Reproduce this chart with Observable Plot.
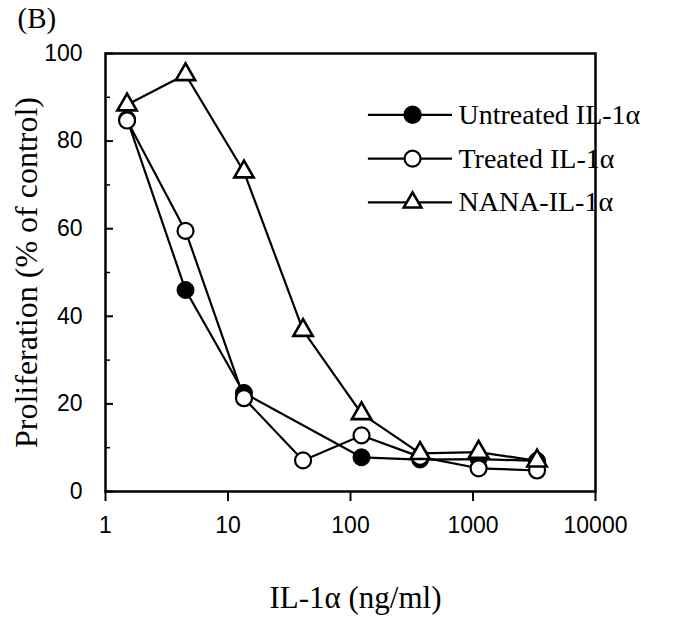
<!DOCTYPE html>
<html>
<head>
<meta charset="utf-8">
<script src="https://cdn.jsdelivr.net/npm/d3@7"></script>
<script src="https://cdn.jsdelivr.net/npm/@observablehq/plot@0.6"></script>
<style>
  html, body { margin: 0; padding: 0; background: #fff; }
</style>
</head>
<body>
<div id="chart"></div>
<script>
// ---- data ----
const untreatedX = [1.5, 4.5, 13.5, 123, 370, 1111, 3333];
const untreatedY = [85, 46, 22.5, 7.8, 7.3, 7.4, 7.0];
const treatedX = [1.5, 4.5, 13.5, 41, 123, 370, 1111, 3333];
const treatedY = [84.7, 59.5, 21.3, 7.1, 12.8, 7.9, 5.3, 4.8];
const nanaX = [1.5, 4.5, 13.5, 41, 123, 370, 1111, 3333];
const nanaY = [88.3, 95.2, 73, 36.8, 17.8, 8.7, 9.0, 7.0];

const xTicks = [1, 10, 100, 1000, 10000];
const yTicks = [0, 20, 40, 60, 80, 100];
const yMinorTicks = [10, 30, 50, 70, 90];

const legendLabels = ["Untreated IL-1\u03b1", "Treated IL-1\u03b1", "NANA-IL-1\u03b1"];
const legendY = [86, 76, 66];
const legendLineX = [140, 680];
const legendMarkX = 321;

const panelLabel = "(B)";
const xLabel = "IL-1\u03b1 (ng/ml)";
const yLabel = "Proliferation (% of control)";

const pts = (xs, ys) => xs.map((x, i) => ({x, y: ys[i]}));
const untreated = pts(untreatedX, untreatedY);
const treated = pts(treatedX, treatedY);
const nana = pts(nanaX, nanaY);
const legend = legendLabels.map((label, i) => ({label, y: legendY[i], i}));

const serif = "'Liberation Serif', 'Times New Roman', serif";

const chart = Plot.plot({
  width: 685,
  height: 619,
  marginLeft: 105,
  marginRight: 90,
  marginTop: 53,
  marginBottom: 128,
  style: {fontFamily: "'Liberation Sans', Arial, sans-serif", fontSize: "23px", color: "#000", background: "#fff"},
  x: {type: "log", domain: [1, 10000]},
  y: {domain: [0, 100]},
  marks: [
    Plot.frame({stroke: "#000", strokeWidth: 2.5}),
    // y ticks (inward), minor ticks, labels
    Plot.axisY({ticks: yTicks, tickSize: -8, strokeWidth: 2, tickFormat: () => "", label: null}),
    Plot.axisY({ticks: yMinorTicks, tickSize: -5, strokeWidth: 1.5, tickFormat: () => "", label: null}),
    Plot.axisY({ticks: yTicks, tickSize: 0, tickPadding: 23, fontSize: 23, label: null}),
    // x ticks (outward) and labels
    Plot.axisX({ticks: xTicks, tickSize: 10, strokeWidth: 2, tickPadding: 15, fontSize: 23, tickFormat: d => String(d), label: null}),
    // titles
    Plot.text([xLabel], {frameAnchor: "bottom", dx: 5, dy: 116, fontFamily: serif, fontSize: 31, fill: "#000"}),
    Plot.text([yLabel], {frameAnchor: "left", textAnchor: "middle", lineAnchor: "middle", dx: -79, rotate: -90, fontFamily: serif, fontSize: 32, fill: "#000"}),
    Plot.text([panelLabel], {frameAnchor: "top-left", dx: -88, dy: -46, fontFamily: serif, fontSize: 29, fill: "#000"}),
    // series lines
    Plot.line(untreated, {x: "x", y: "y", stroke: "#000", strokeWidth: 2.2}),
    Plot.line(treated, {x: "x", y: "y", stroke: "#000", strokeWidth: 2.2}),
    Plot.line(nana, {x: "x", y: "y", stroke: "#000", strokeWidth: 2.2}),
    // markers
    Plot.dot(untreated, {x: "x", y: "y", r: 8.5, fill: "#000", stroke: "#000", strokeWidth: 1}),
    Plot.dot(treated, {x: "x", y: "y", r: 8, fill: "#fff", stroke: "#000", strokeWidth: 2.2}),
    Plot.dot(nana, {x: "x", y: "y", r: 7.2, symbol: "triangle", fill: "#fff", stroke: "#000", strokeWidth: 2.6}),
    // legend
    Plot.ruleY(legend, {y: "y", x1: legendLineX[0], x2: legendLineX[1], stroke: "#000", strokeWidth: 2.2}),
    Plot.dot(legend.filter(d => d.i === 0), {x: legendMarkX, y: "y", r: 8.5, fill: "#000", stroke: "#000"}),
    Plot.dot(legend.filter(d => d.i === 1), {x: legendMarkX, y: "y", r: 8, fill: "#fff", stroke: "#000", strokeWidth: 2.2}),
    Plot.dot(legend.filter(d => d.i === 2), {x: legendMarkX, y: "y", r: 6.5, symbol: "triangle", fill: "#fff", stroke: "#000", strokeWidth: 2.6}),
    Plot.text(legend, {x: legendLineX[1], y: "y", text: "label", textAnchor: "start", dx: 6, fontFamily: serif, fontSize: 28, fill: "#000"})
  ]
});
document.getElementById("chart").appendChild(chart);
</script>
</body>
</html>
